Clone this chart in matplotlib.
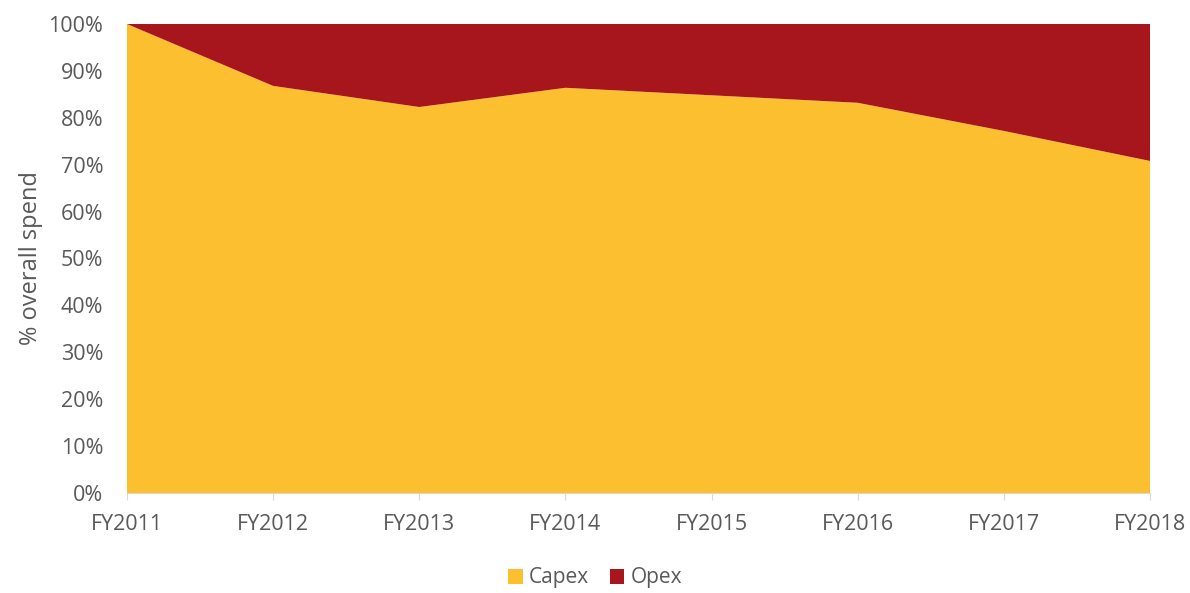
import matplotlib
matplotlib.use('Agg')
import matplotlib.pyplot as plt
from matplotlib.ticker import PercentFormatter

years = ['FY2011', 'FY2012', 'FY2013', 'FY2014', 'FY2015', 'FY2016', 'FY2017', 'FY2018']
capex = [100.0, 86.8, 82.3, 86.4, 84.8, 83.2, 77.2, 70.8]
opex = [100 - c for c in capex]

plt.rcParams['font.family'] = ['Open Sans', 'DejaVu Sans']
grey = '#595959'

fig = plt.figure(figsize=(11.9, 5.93), dpi=100)
ax = fig.add_axes([127/1190, 1 - 493/593, (1150 - 127)/1190, (493 - 24)/593])

x = list(range(len(years)))
ax.stackplot(x, capex, opex, colors=['#FBBF2F', '#A6161C'],
             labels=['Capex', 'Opex'], linewidth=0)

ax.set_xlim(0, len(years) - 1)
ax.set_ylim(0, 100)
ax.set_yticks(range(0, 101, 10))
ax.yaxis.set_major_formatter(PercentFormatter(decimals=0))
ax.set_xticks(x)
ax.set_xticklabels(years)

for s in ['top', 'right', 'left']:
    ax.spines[s].set_visible(False)
ax.spines['bottom'].set_color('#d9d9d9')
ax.tick_params(axis='y', length=0, pad=17, labelsize=15.5, labelcolor=grey)
ax.tick_params(axis='x', length=5, color='#d9d9d9', pad=10, labelsize=15.5, labelcolor=grey)

ax.set_ylabel('% overall spend', fontsize=17, color=grey, labelpad=4)

fig.legend(loc='center', bbox_to_anchor=(0.5, 1 - 578/593), ncol=2, frameon=False,
           fontsize=15, labelcolor=grey, handlelength=0.7, handleheight=0.7,
           handletextpad=0.3, columnspacing=1.0)

fig.savefig('out.png', dpi=100)
